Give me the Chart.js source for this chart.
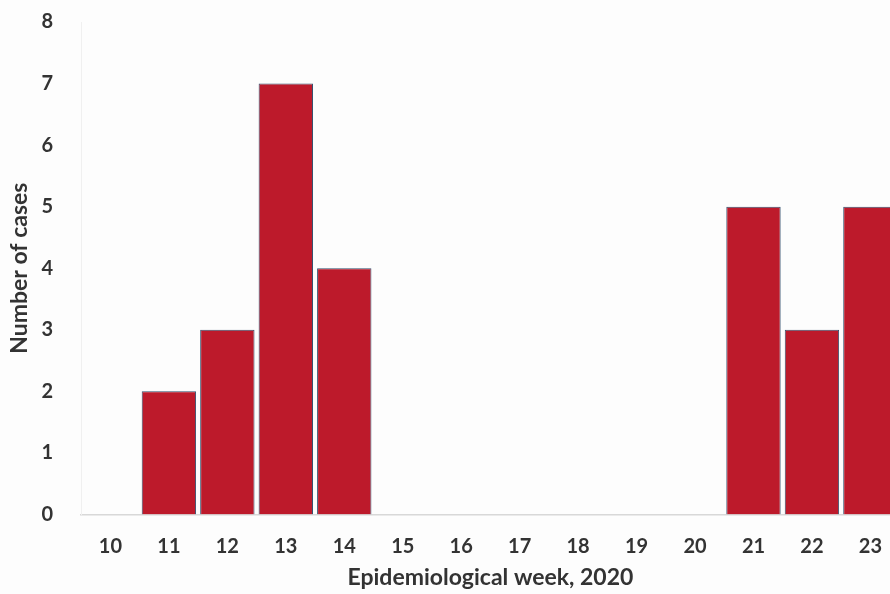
<!DOCTYPE html>
<html>
<head>
<meta charset="utf-8">
<script src="https://cdn.jsdelivr.net/npm/chart.js@4"></script>
<style>
  html, body { margin: 0; padding: 0; background: #fdfdfd; overflow: hidden; }
  #wrap { width: 902px; height: 594px; position: relative; }
</style>
</head>
<body>
<div id="wrap"><canvas id="myBarChart"></canvas></div>
<script>
const weeks = ['10', '11', '12', '13', '14', '15', '16', '17', '18', '19', '20', '21', '22', '23'];
const cases = [0, 2, 3, 7, 4, 0, 0, 0, 0, 0, 0, 5, 3, 5];

const ctxBar = document.getElementById('myBarChart').getContext('2d');

const dataBar = {
    labels: weeks,
    datasets: [{
        data: cases,
        backgroundColor: '#bd1a2b',
        borderColor: '#34506e',
        borderWidth: 1,
        barPercentage: 0.93,
        categoryPercentage: 1
    }]
};

const configBar = {
    type: 'bar',
    data: dataBar,
    options: {
        responsive: true,
        maintainAspectRatio: false,
        animation: false,
        layout: { padding: { top: 0, left: 6, right: 0, bottom: 3 } },
        plugins: {
            legend: { display: false },
            tooltip: { enabled: false }
        },
        scales: {
            x: {
                grid: { display: false, drawTicks: false },
                border: { display: true, color: '#d8d8d8', width: 1.5 },
                afterFit: function (scale) { scale.height -= 23; },
                ticks: {
                    color: '#333',
                    padding: 20,
                    font: { family: 'Lato', weight: 'bold', size: 20 }
                },
                title: {
                    display: true,
                    text: 'Epidemiological week, 2020',
                    color: '#333',
                    padding: { top: 8, bottom: 0 },
                    font: { family: 'Lato', weight: 'bold', size: 23 }
                }
            },
            y: {
                min: 0,
                max: 8,
                grid: { display: false, drawTicks: false },
                border: { display: true, color: '#f0f0f0' },
                afterFit: function (scale) {
                    scale.width -= 26;
                    scale.paddingTop = 22;
                },
                ticks: {
                    stepSize: 1,
                    color: '#333',
                    padding: 28,
                    font: { family: 'Lato', weight: 'bold', size: 20 }
                },
                title: {
                    display: true,
                    text: 'Number of cases',
                    color: '#333',
                    padding: { top: 0, bottom: 6 },
                    font: { family: 'Lato', weight: 'bold', size: 23 }
                }
            }
        }
    }
};

new Chart(ctxBar, configBar);
</script>
</body>
</html>
